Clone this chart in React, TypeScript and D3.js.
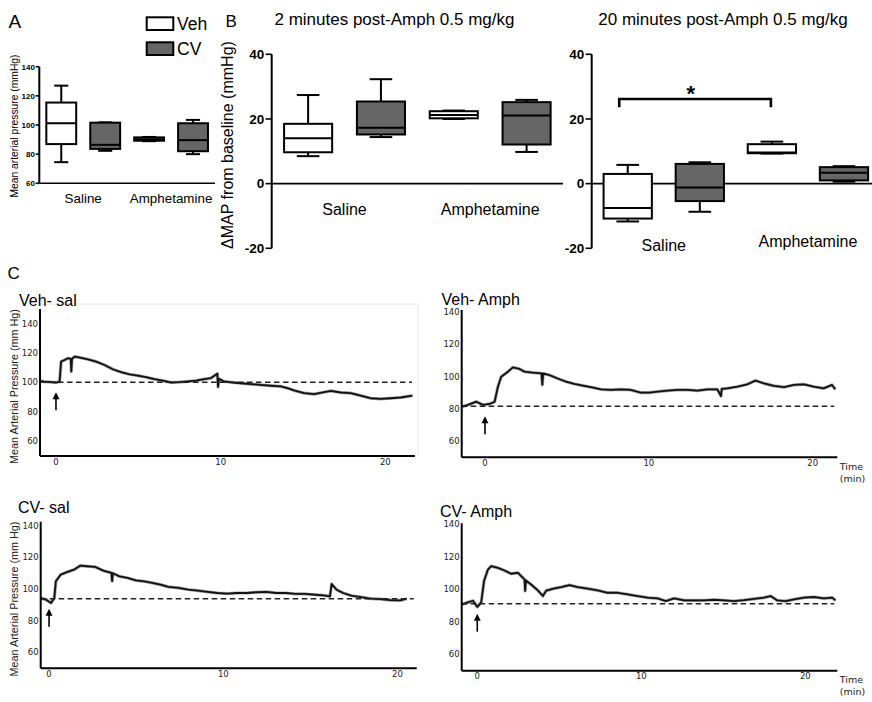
import React from 'react';
import * as d3 from 'd3';

const groups = ['Saline', 'Amphetamine'];
const treatments = ['Veh', 'CV'];

// box summaries: [min, q1, median, q3, max] for Saline, Amphetamine
const restVeh = [[74.5, 86.9, 101.2, 115.4, 127], [88.9, 89.2, 90.3, 91.5, 91.8]];
const restCV = [[82.3, 83.6, 86.4, 101.6, 101.8], [80, 82, 89.6, 101.2, 103.5]];
const min2Veh = [[8.5, 9.7, 14.0, 18.5, 27.4], [20.0, 20.2, 21.2, 22.4, 22.6]];
const min2CV = [[14.4, 15.2, 17.3, 25.4, 32.3], [9.8, 12.1, 21.1, 25.2, 25.9]];
const min20Veh = [[-11.7, -10.8, -7.5, 3.0, 5.8], [9.3, 9.4, 9.6, 12.2, 13.0]];
const min20CV = [[-8.7, -5.4, -1.2, 6.1, 6.6], [0.6, 1.0, 3.4, 5.1, 5.4]];

const restTicks = [60, 80, 100, 120, 140];
const deltaTicks = [-20, 0, 20, 40];
const traceYTicks = [60, 80, 100, 120, 140];
const traceXTicks = [0, 10, 20];

// MAP traces, [time (min), mmHg]
const vehSalTrace = [[-0.99, 101.2], [-0.74, 100.6], [0.02, 100], [0.22, 100.6], [0.31, 114.2], [0.52, 115.3], [0.73, 116.5], [0.9, 116], [0.93, 107.5], [0.97, 116], [1.13, 117.6], [1.39, 117.1], [1.94, 115.8], [2.44, 114.2], [2.95, 111.9], [3.45, 109], [3.96, 107], [4.47, 105.6], [4.97, 104.7], [5.47, 103.6], [5.98, 102.3], [6.49, 101.2], [6.99, 100], [7.5, 100.2], [8.0, 100.7], [8.5, 101.3], [9.01, 102.3], [9.41, 103], [9.8, 106], [9.84, 97], [9.9, 102.5], [10.2, 100.7], [10.73, 100], [11.23, 99.5], [11.84, 98.9], [12.4, 98.4], [13.05, 97.8], [13.66, 97.3], [14.06, 96.2], [14.46, 94.6], [15.07, 92.8], [15.68, 92.1], [16.28, 93.4], [16.7, 94.3], [17.29, 93.2], [17.9, 92.8], [18.5, 91.1], [19.1, 89.3], [19.72, 88.9], [20.32, 89.3], [20.93, 89.8], [21.64, 91.1]];
const vehAmphTrace = [[-1.4, 81.4], [-1.04, 82.5], [-0.53, 84.5], [-0.12, 82.5], [0.28, 83.1], [0.59, 84.5], [0.79, 93.8], [0.99, 100], [1.4, 103.1], [1.7, 105.8], [2.11, 104.8], [2.42, 103.1], [2.92, 102.5], [3.45, 102.1], [3.5, 95], [3.55, 102], [3.94, 101], [4.44, 98.9], [4.95, 96.9], [5.46, 95.5], [5.97, 94.5], [6.47, 93.5], [7.08, 92.2], [7.69, 91.8], [8.3, 92.2], [8.9, 91.8], [9.51, 90.1], [10.02, 90.1], [10.53, 90.7], [11.14, 91.4], [11.75, 91.8], [12.36, 91.8], [12.97, 91.4], [13.57, 92.2], [14.18, 92.2], [14.4, 88], [14.45, 92.5], [14.79, 92.8], [15.4, 93.8], [16.01, 95.3], [16.5, 97.6], [17.02, 95.9], [17.63, 94.3], [18.24, 93.5], [18.85, 94.9], [19.46, 95.3], [20.07, 93.8], [20.67, 92.8], [21.18, 94.9], [21.38, 92.2]];
const cvSalTrace = [[-0.48, 94.3], [-0.17, 93.3], [0.11, 91.2], [0.3, 94.3], [0.39, 104.9], [0.67, 109.1], [1.05, 110.8], [1.43, 112.2], [1.8, 114.8], [2.17, 114.4], [2.64, 114], [3.11, 111.6], [3.58, 110.2], [3.62, 105], [3.66, 110], [4.04, 108], [4.51, 107], [4.98, 105.5], [5.45, 104.9], [5.92, 103.9], [6.39, 102.8], [6.85, 101.4], [7.42, 100.7], [7.98, 99.7], [8.54, 99], [9.1, 98.2], [9.66, 97.5], [10.22, 97.1], [10.79, 97.5], [11.35, 97.5], [11.91, 98], [12.47, 98.2], [13.03, 97.5], [13.6, 97.5], [14.16, 96.9], [14.72, 96.9], [15.28, 96.4], [15.75, 96], [16.12, 95.4], [16.22, 103.2], [16.5, 99.6], [16.88, 97.5], [17.35, 95.8], [17.9, 94.9], [18.47, 93.9], [19.03, 93.7], [19.59, 93], [20.15, 92.8], [20.53, 93.9]];
const cvAmphTrace = [[-0.93, 90.8], [-0.57, 92], [-0.26, 93], [0, 89.2], [0.24, 92], [0.41, 105.1], [0.65, 112.2], [0.85, 114.3], [1.26, 113.2], [1.66, 111.6], [2.07, 109.6], [2.48, 110.2], [2.88, 106.1], [2.92, 99], [2.96, 105.5], [3.28, 103], [3.69, 99.4], [4.0, 95.9], [4.2, 99.2], [4.71, 100.6], [5.11, 101.4], [5.62, 102.6], [6.13, 101.4], [6.73, 100.4], [7.34, 99.4], [7.95, 97.9], [8.56, 97.9], [9.17, 96.9], [9.77, 95.9], [10.38, 94.9], [10.99, 94.5], [11.5, 92.8], [12.0, 94.5], [12.62, 93.2], [13.23, 93.2], [13.83, 93.2], [14.44, 93.6], [15.05, 93.2], [15.66, 92.8], [16.27, 93.4], [16.87, 94.2], [17.48, 94.9], [17.89, 95.9], [18.29, 93.2], [18.8, 92.8], [19.31, 93.8], [19.92, 94.9], [20.52, 95.3], [21.13, 94.5], [21.64, 94.9], [21.84, 93.2]];
const traceBaselines = [100.1, 81.6, 93.9, 91.2];

const SANS = 'Liberation Sans, Arial, Helvetica, sans-serif';
const DEJA = 'DejaVu Sans, sans-serif';

function Box({ xc, w, s, y, fill }) {
  const [lo, q1, med, q3, hi] = s;
  const c = w * 0.47;
  return (
    <g stroke="#000" strokeWidth={2}>
      <line x1={xc} x2={xc} y1={y(hi)} y2={y(q3)} />
      <line x1={xc} x2={xc} y1={y(q1)} y2={y(lo)} />
      <line x1={xc - c / 2} x2={xc + c / 2} y1={y(hi)} y2={y(hi)} />
      <line x1={xc - c / 2} x2={xc + c / 2} y1={y(lo)} y2={y(lo)} />
      <rect x={xc - w / 2} y={y(q3)} width={w} height={y(q1) - y(q3)} fill={fill} />
      <line x1={xc - w / 2} x2={xc + w / 2} y1={y(med)} y2={y(med)} />
    </g>
  );
}

function BoxPanel({ left, right, lineEnd, y, ticks, base, veh, cv, boxFrac, tickSize, labelSize, labelYs }) {
  const outer = d3.scaleBand().domain(groups).range([left, right]);
  const inner = d3.scaleBand().domain(treatments).range([0, outer.bandwidth()]);
  const w = inner.bandwidth() * boxFrac;
  const [d0, d1] = y.domain();
  const sets = [veh, cv];
  return (
    <g>
      <line x1={left} x2={left} y1={y(d1)} y2={y(d0)} stroke="#000" strokeWidth={2} />
      <line x1={left} x2={lineEnd} y1={y(base)} y2={y(base)} stroke="#000" strokeWidth={1.6} />
      {ticks.map((t) => (
        <g key={t}>
          <line x1={left - tickSize * 0.45} x2={left} y1={y(t)} y2={y(t)} stroke="#000" strokeWidth={1.6} />
          <text x={left - tickSize * 0.55} y={y(t)} dy="0.36em" textAnchor="end" fontFamily={SANS}
            fontWeight="bold" fontSize={tickSize}>{t}</text>
        </g>
      ))}
      {groups.map((g, gi) =>
        treatments.map((tr, ti) => (
          <Box key={g + tr} xc={outer(g) + inner(tr) + inner.bandwidth() / 2} w={w}
            s={sets[ti][gi]} y={y} fill={ti === 0 ? '#fff' : '#666'} />
        ))
      )}
      {groups.map((g, gi) => (
        <text key={g} x={outer(g) + outer.bandwidth() / 2} y={labelYs[gi]} textAnchor="middle"
          fontFamily={SANS} fontSize={labelSize}>{g}</text>
      ))}
    </g>
  );
}

function Trace({ title, titleX, titleY, x0, x1, top, bottom, xDomain, yDomain, data, base, yLabel, timeLabel, frame }) {
  const x = d3.scaleLinear().domain(xDomain).range([x0, x1]);
  const y = d3.scaleLinear().domain(yDomain).range([bottom, top]);
  const line = d3.line().x((d) => x(d[0])).y((d) => y(d[1]));
  const by = y(base);
  return (
    <g>
      {frame && (
        <path d={`M${x0},${top - 5}H${x1 + 3}V${bottom}`} fill="none" stroke="#e6e6e6" strokeWidth={1} />
      )}
      <text x={titleX} y={titleY} fontFamily={SANS} fontSize={16}>{title}</text>
      <path d={line(data)} fill="none" stroke="#555" strokeWidth={3.2} strokeLinejoin="round" opacity={0.55} />
      <path d={line(data)} fill="none" stroke="#111" strokeWidth={1.8} strokeLinejoin="round" />
      <line x1={x0} x2={x1 - 3} y1={by} y2={by} stroke="#222" strokeWidth={1.5} strokeDasharray="5.5,3.5" />
      <line x1={x0} x2={x0} y1={top} y2={bottom} stroke="#000" strokeWidth={2} />
      <line x1={x0} x2={x1} y1={bottom} y2={bottom} stroke="#000" strokeWidth={2} />
      <g>
        <line x1={x(0)} x2={x(0)} y1={by + 28} y2={by + 15} stroke="#000" strokeWidth={1.6} />
        <path d={`M${x(0)},${by + 10}l-3.5,7h7z`} fill="#000" />
      </g>
      {traceYTicks.map((t) => (
        <text key={t} x={x0 - 2} y={y(t)} dy="0.35em" textAnchor="end" fontFamily={DEJA}
          fontSize={8.5} fill="#222">{t}</text>
      ))}
      {traceXTicks.map((t) => (
        <text key={t} x={x(t)} y={bottom + 8.5} textAnchor="middle" fontFamily={DEJA}
          fontSize={8.5} fill="#222">{t}</text>
      ))}
      {yLabel && (
        <text transform={`translate(18,${(top + bottom) / 2 + 4}) rotate(-90)`} textAnchor="middle"
          fontFamily={SANS} fontSize={10.8} fill="#222">Mean Arterial Pressure (mm Hg)</text>
      )}
      {timeLabel && (
        <g fontFamily={DEJA} fontSize={9.5} fill="#222">
          <text x={x1 + 2.5} y={bottom + 12.5}>Time</text>
          <text x={x1 + 2.5} y={bottom + 24.5}>(min)</text>
        </g>
      )}
    </g>
  );
}

export default function App() {
  const yA = d3.scaleLinear().domain([60, 140]).range([183.3, 66.7]);
  const yB = d3.scaleLinear().domain([-20, 40]).range([248.3, 54.3]);

  const outerR = d3.scaleBand().domain(groups).range([591.7, 880]);
  const innerR = d3.scaleBand().domain(treatments).range([0, outerR.bandwidth()]);
  const cSal = outerR('Saline') + innerR('Veh') + innerR.bandwidth() / 2;
  const cAmph = outerR('Amphetamine') + innerR('Veh') + innerR.bandwidth() / 2;
  const brY = 99;

  return (
    <svg width={872} height={702} style={{ position: 'absolute', left: 0, top: 0, background: '#fff' }}>
      <rect width={872} height={702} fill="#fff" />
      {/* panel letters */}
      <text x={8.5} y={28} fontFamily={SANS} fontSize={19}>A</text>
      <text x={225.5} y={26.5} fontFamily={SANS} fontSize={17}>B</text>
      <text x={7.5} y={278.5} fontFamily={SANS} fontSize={17}>C</text>

      {/* A */}
      <text transform="translate(17.5,126) rotate(-90)" textAnchor="middle" fontFamily={SANS} fontSize={10.3}>
        Mean arterial pressure (mmHg)
      </text>
      <BoxPanel left={39.3} right={215} lineEnd={215} y={yA} ticks={restTicks} base={60}
        veh={restVeh} cv={restCV} boxFrac={0.68} tickSize={8} labelSize={13.4} labelYs={[203, 203]} />
      <g stroke="#000" strokeWidth={2}>
        <rect x={146.7} y={17.3} width={26.6} height={12.7} fill="#fff" />
        <rect x={146.7} y={42.3} width={26.6} height={12.7} fill="#666" />
      </g>
      <text x={177} y={30} fontFamily={SANS} fontSize={17.5}>{treatments[0]}</text>
      <text x={177} y={55} fontFamily={SANS} fontSize={17.5}>{treatments[1]}</text>

      {/* B */}
      <text x={394.5} y={24.5} textAnchor="middle" fontFamily={SANS} fontSize={17}>2 minutes post-Amph 0.5 mg/kg</text>
      <text x={723} y={24.5} textAnchor="middle" fontFamily={SANS} fontSize={17}>20 minutes post-Amph 0.5 mg/kg</text>
      <text transform="translate(233,145) rotate(-90)" textAnchor="middle" fontFamily={SANS} fontSize={16}>
        ΔMAP from baseline (mmHg)
      </text>
      <BoxPanel left={271.7} right={563} lineEnd={563} y={yB} ticks={deltaTicks} base={0}
        veh={min2Veh} cv={min2CV} boxFrac={0.66} tickSize={13.5} labelSize={16} labelYs={[215, 215]} />
      <BoxPanel left={591.7} right={880} lineEnd={872} y={yB} ticks={deltaTicks} base={0}
        veh={min20Veh} cv={min20CV} boxFrac={0.67} tickSize={13.5} labelSize={16} labelYs={[250.5, 246.5]} />
      <path d={`M${cSal - 8.5},${brY + 8.3}V${brY}H${cAmph - 1}V${brY + 8.3}`} fill="none"
        stroke="#000" strokeWidth={2.6} />
      <text x={(cSal + cAmph) / 2 - 9} y={101} textAnchor="middle" fontFamily={SANS} fontWeight="bold"
        fontSize={22}>*</text>

      {/* C */}
      <Trace title="Veh- sal" titleX={19} titleY={306} x0={40} x1={415} top={309} bottom={456}
        xDomain={[-0.97, 21.8]} yDomain={[50, 150]} data={vehSalTrace} base={traceBaselines[0]}
        yLabel timeLabel={false} frame />
      <Trace title="Veh- Amph" titleX={441.5} titleY={305} x0={461.7} x1={837.3} top={310} bottom={457.3}
        xDomain={[-1.42, 21.5]} yDomain={[50, 141.4]} data={vehAmphTrace} base={traceBaselines[1]}
        yLabel={false} timeLabel frame={false} />
      <Trace title="CV- sal" titleX={18} titleY={513.3} x0={40.7} x1={416.7} top={521.7} bottom={668.3}
        xDomain={[-0.48, 21.1]} yDomain={[50, 142.5]} data={cvSalTrace} base={traceBaselines[2]}
        yLabel timeLabel={false} frame={false} />
      <Trace title="CV- Amph" titleX={440} titleY={516.5} x0={461.7} x1={837.3} top={523.3} bottom={670.7}
        xDomain={[-0.95, 21.95]} yDomain={[50, 140.6]} data={cvAmphTrace} base={traceBaselines[3]}
        yLabel={false} timeLabel frame={false} />
    </svg>
  );
}
